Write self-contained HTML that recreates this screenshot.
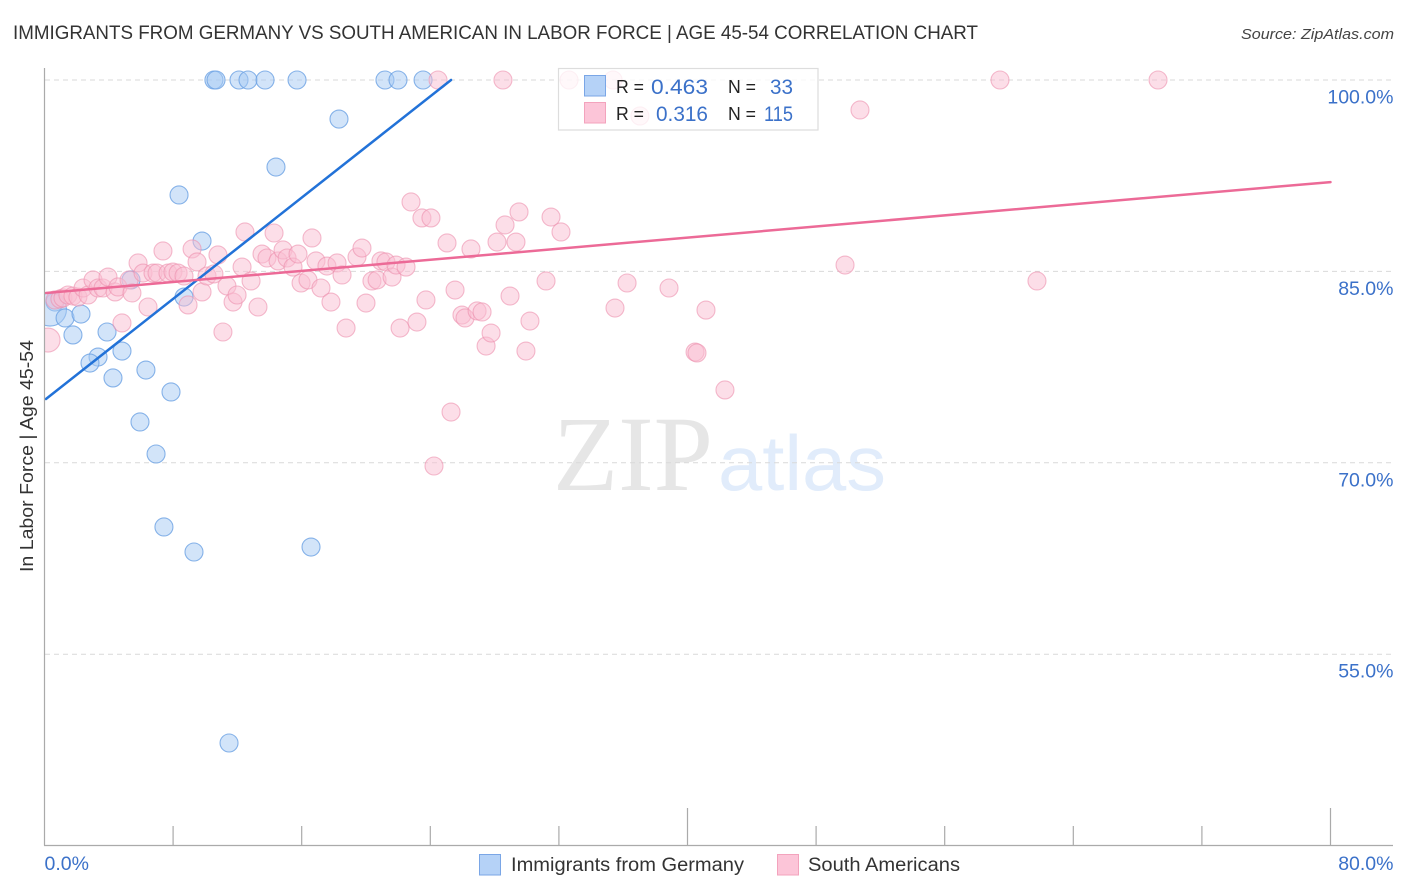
<!DOCTYPE html>
<html>
<head>
<meta charset="utf-8">
<title>Immigrants from Germany vs South American in Labor Force | Age 45-54 Correlation Chart</title>
<style>
html,body{margin:0;padding:0;background:#fff;width:1406px;height:892px;overflow:hidden}
svg{display:block}
text{font-family:"Liberation Sans",sans-serif}
</style>
</head>
<body>
<svg id="chart" width="1406" height="892" viewBox="0 0 1406 892" xmlns="http://www.w3.org/2000/svg">
  <defs><clipPath id="plot-clip"><rect x="45" y="60" width="1350" height="785"/></clipPath></defs>
  <text x="13" y="39" font-size="19.5" fill="#333" textLength="965" lengthAdjust="spacingAndGlyphs">IMMIGRANTS FROM GERMANY VS SOUTH AMERICAN IN LABOR FORCE | AGE 45-54 CORRELATION CHART</text>
  <text x="1241" y="39" font-size="15" font-style="italic" fill="#444" textLength="153" lengthAdjust="spacingAndGlyphs">Source: ZipAtlas.com</text>
  <g>
    <text x="553" y="490" style="font-family:'Liberation Serif',serif" font-size="107" fill="#e6e6e6" textLength="160" lengthAdjust="spacingAndGlyphs">ZIP</text>
    <text x="718" y="490" font-size="78" fill="#e1ecfb" textLength="168" lengthAdjust="spacingAndGlyphs">atlas</text>
  </g>
  <g id="grid"></g>
  <g id="blue-points" clip-path="url(#plot-clip)"></g>
  <g id="pink-points" clip-path="url(#plot-clip)"></g>
  <line id="blue-trend" stroke="#2272d8" stroke-width="2.5" stroke-linecap="round"/>
  <line id="pink-trend" stroke="#ec6a97" stroke-width="2.5" stroke-linecap="round"/>
  <g>
    <line x1="44.5" y1="68" x2="44.5" y2="845.5" stroke="#aaa" stroke-width="1.2"/>
    <line x1="44" y1="845.5" x2="1393" y2="845.5" stroke="#aaa" stroke-width="1.2"/>
    <g id="x-ticks"></g>
    <g id="y-labels"></g>
    <g id="x-labels"></g>
  </g>
  <text transform="translate(33,456) rotate(-90)" text-anchor="middle" font-size="18.5" fill="#333" textLength="232" lengthAdjust="spacingAndGlyphs">In Labor Force | Age 45-54</text>
  <g>
    <rect x="558.5" y="68.5" width="259.5" height="61.5" fill="#fff" fill-opacity="0.78" stroke="#ddd" stroke-width="1.2"/>
    <rect x="584.5" y="75.5" width="21" height="20.5" fill="#b5d2f7" stroke="#7aa6e6"/>
    <rect x="584.5" y="102.5" width="21" height="20.5" fill="#fcc5d8" stroke="#f3a3bd"/>
    <text x="616" y="93" font-size="18" fill="#222" textLength="28" lengthAdjust="spacingAndGlyphs">R =</text>
    <text x="651" y="94" font-size="21" fill="#3b71c9" textLength="57" lengthAdjust="spacingAndGlyphs">0.463</text>
    <text x="728" y="93" font-size="18" fill="#222" textLength="28" lengthAdjust="spacingAndGlyphs">N =</text>
    <text x="770" y="94" font-size="21" fill="#3b71c9" textLength="23" lengthAdjust="spacingAndGlyphs">33</text>
    <text x="616" y="120" font-size="18" fill="#222" textLength="28" lengthAdjust="spacingAndGlyphs">R =</text>
    <text x="656" y="121" font-size="21" fill="#3b71c9" textLength="52" lengthAdjust="spacingAndGlyphs">0.316</text>
    <text x="728" y="120" font-size="18" fill="#222" textLength="28" lengthAdjust="spacingAndGlyphs">N =</text>
    <text x="764" y="121" font-size="21" fill="#3b71c9" textLength="29" lengthAdjust="spacingAndGlyphs">115</text>
  </g>
  <g>
    <rect x="479.5" y="854.5" width="21" height="20.5" fill="#b5d2f7" stroke="#7aa6e6"/>
    <text x="511" y="871" font-size="19" fill="#333" textLength="233" lengthAdjust="spacingAndGlyphs">Immigrants from Germany</text>
    <rect x="777.5" y="854.5" width="21" height="20.5" fill="#fcc5d8" stroke="#f3a3bd"/>
    <text x="808" y="871" font-size="19" fill="#333" textLength="152" lengthAdjust="spacingAndGlyphs">South Americans</text>
  </g>
</svg>
<script>
const germanyX = [10.54,10.67,12.10,12.66,13.72,15.71,21.18,21.99,23.55,18.32,14.40,8.37,9.80,8.68,5.38,0.65,0.34,1.28,2.27,1.77,3.89,3.33,2.83,4.82,4.26,6.31,7.87,5.94,6.94,7.43,9.30,16.58,11.48];
const germanyY = [100,100,100,100,100,100,100,100,100,96.94,93.18,90.99,87.38,82.99,84.33,82.60,82.01,81.35,81.66,80.02,80.25,78.29,77.82,78.76,76.65,77.27,75.55,73.20,70.69,64.97,63.01,63.40,48.04];
const germanySizes = [1,1,1,1,1,1,1,1,1,1,1,1,1,1,1,1,3.36,1,1,1,1,1,1,1,1,1,1,1,1,1,1,1,1];
const southAmericanX = [0.22,0.65,0.96,1.15,1.46,1.77,2.08,2.40,2.71,3.02,3.33,3.64,3.95,4.39,4.57,4.82,5.26,5.44,5.82,6.13,6.44,6.75,7.00,7.37,7.68,7.99,8.31,8.68,8.93,9.18,9.49,9.80,10.11,10.54,10.79,11.10,11.35,11.73,11.98,12.29,12.47,12.85,13.28,13.53,13.84,14.28,14.53,14.84,15.09,15.46,15.77,15.96,16.39,16.64,16.89,17.20,17.57,17.82,18.20,18.51,18.76,19.44,19.75,20.00,20.37,20.69,20.93,21.24,21.62,21.87,22.12,22.49,22.80,23.17,23.48,23.73,24.04,25.04,25.54,25.97,26.16,26.53,26.91,27.22,27.47,27.78,28.15,28.65,28.96,29.33,29.52,29.95,30.20,31.20,31.51,32.13,35.49,36.24,38.85,40.47,40.59,41.15,42.33,25.29,24.23,49.80,61.74,50.73,37.04,24.48,28.52,32.63,35.37,59.44,69.27];
const southAmericanY = [79.62,82.76,82.84,82.92,83.15,83.07,82.99,83.70,83.15,84.33,83.70,83.70,84.56,83.39,83.78,80.96,84.33,83.31,85.66,84.87,82.21,84.87,84.87,86.60,84.87,84.95,84.87,84.64,82.37,86.76,85.74,83.39,84.64,84.80,86.29,80.25,83.86,82.60,83.15,85.34,88.09,84.25,82.21,86.36,86.05,88.01,85.82,86.68,86.05,85.34,86.36,84.09,84.33,87.62,85.82,83.70,85.42,82.60,85.66,84.72,80.56,86.13,86.83,82.52,84.25,84.33,85.82,85.74,84.56,85.50,80.56,85.34,90.44,81.03,89.19,82.76,89.19,87.23,83.54,81.58,81.35,86.76,81.90,81.82,79.15,80.17,87.30,88.64,83.07,87.30,89.66,78.76,81.11,84.25,89.26,88.09,82.13,84.09,83.70,78.68,78.61,81.97,75.71,73.98,69.75,85.50,84.25,97.65,97.18,100,100,100,100,100,100];
const southAmericanSizes = [1.78];
const germanyTrendX = [0.09,25.29];
const germanyTrendY = [75.0,100];
const southAmericanTrendX = [0.09,80];
const southAmericanTrendY = [83.31,92.0];
const yTicks = [100,85,70,55];
const yTickLabels = ["100.0%","85.0%","70.0%","55.0%"];
const xTicks = [0,8,16,24,32,40,48,56,64,72,80];
const xMajorTicks = [0,40,80];
const xTickLabels = ["0.0%","80.0%"];
const xTickLabelValues = [0,80];

const NS = 'http://www.w3.org/2000/svg';
function sx(v){return 44.5+v*16.075;}
function sy(v){return 80+(100-v)*12.76;}
function make(tag,parent,attrs){
  const el=document.createElementNS(NS,tag);
  for(const k in attrs){el.setAttribute(k,attrs[k]);}
  parent.appendChild(el);
  return el;
}
const grid=document.getElementById('grid');
yTicks.forEach(function(t){
  const el=make('line',grid,{x1:45,x2:1393,y1:sy(t),y2:sy(t),stroke:'#d9d9d9','stroke-width':1,'stroke-dasharray':'5 4'});
  
  
});
const yLabels=document.getElementById('y-labels');
yTicks.forEach(function(t,i){
  const el=make('text',yLabels,{x:1393.5,y:sy(t)+23.5,'text-anchor':'end','font-size':19.5,fill:'#3b71c9'});
  
  
  el.textContent=yTickLabels[i];
});
const xTicksG=document.getElementById('x-ticks');
xTicks.forEach(function(t){
  const major=xMajorTicks.indexOf(t)>=0;
  if(t===0){return;}
  const el=make('line',xTicksG,{x1:sx(t),x2:sx(t),y1:major?808:826,y2:845.5,stroke:'#aaa','stroke-width':1.2});
  
  
});
const xLabels=document.getElementById('x-labels');
xTickLabelValues.forEach(function(t,i){
  const el=make('text',xLabels,{x:t===0?sx(t):sx(t)+63,y:870,'text-anchor':t===0?'start':'end','font-size':19.5,fill:'#3b71c9'});
  
  
  el.textContent=xTickLabels[i];
});
const blueG=document.getElementById('blue-points');
germanyX.forEach(function(v,i){
  const el=make('circle',blueG,{cx:sx(v),cy:sy(germanyY[i]),r:9*Math.sqrt(germanySizes[i]),fill:'#a6c9f4','fill-opacity':0.5,stroke:'#6ba1e3','stroke-opacity':0.8,'stroke-width':1.1});
  
  
});
const pinkG=document.getElementById('pink-points');
southAmericanX.forEach(function(v,i){
  const size=southAmericanSizes[i]||1;
  const el=make('circle',pinkG,{cx:sx(v),cy:sy(southAmericanY[i]),r:9*Math.sqrt(size),fill:'#f9bdd1','fill-opacity':0.5,stroke:'#ec8fae','stroke-opacity':0.6,'stroke-width':1.1});
  
  
});
const bt=document.getElementById('blue-trend');
bt.setAttribute('x1',sx(germanyTrendX[0]));
bt.setAttribute('y1',sy(germanyTrendY[0]));
bt.setAttribute('x2',sx(germanyTrendX[1]));
bt.setAttribute('y2',sy(germanyTrendY[1]));
const pt=document.getElementById('pink-trend');
pt.setAttribute('x1',sx(southAmericanTrendX[0]));
pt.setAttribute('y1',sy(southAmericanTrendY[0]));
pt.setAttribute('x2',sx(southAmericanTrendX[1]));
pt.setAttribute('y2',sy(southAmericanTrendY[1]));
</script>
</body>
</html>
